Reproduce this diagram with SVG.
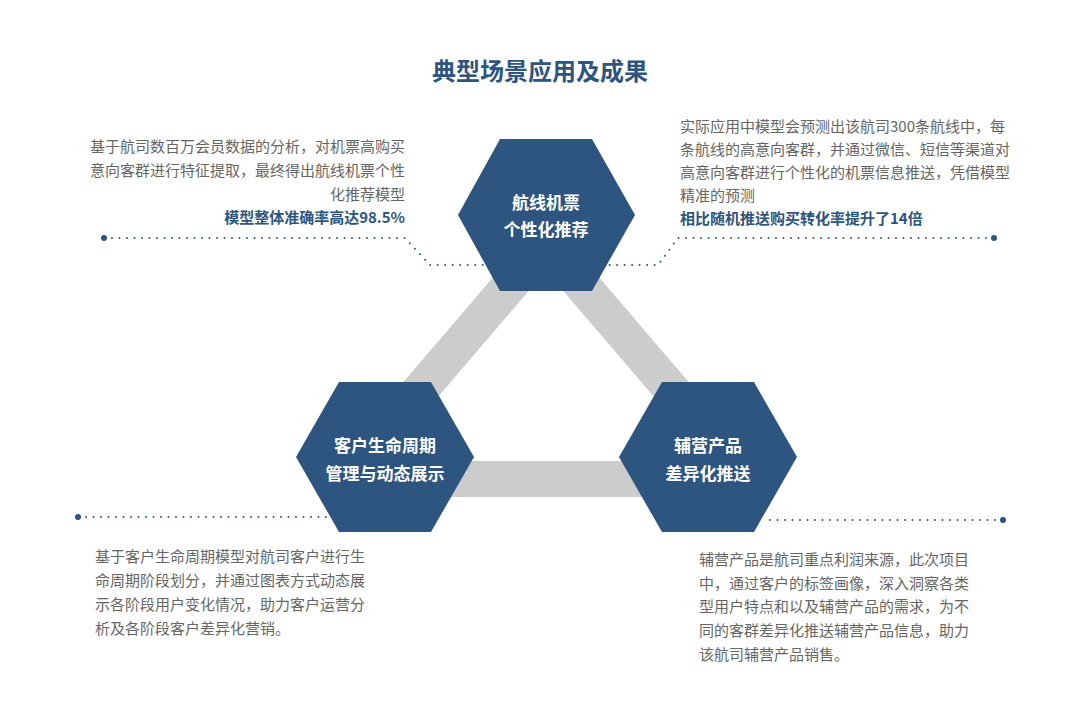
<svg xmlns="http://www.w3.org/2000/svg" width="1080" height="712" viewBox="0 0 1080 712">
<style>
.t{font-family:"Noto Sans CJK SC","Liberation Sans",sans-serif;font-size:15px;fill:#666}
.b{font-family:"Noto Sans CJK SC","Liberation Sans",sans-serif;font-size:15px;font-weight:bold;fill:#2d5580}
.h{font-family:"Noto Sans CJK SC","Liberation Sans",sans-serif;font-size:17px;font-weight:bold;fill:#fff;text-anchor:middle}
.hex{fill:#2d5580}
.dot{fill:none;stroke:#2d5580;stroke-width:2;stroke-linecap:round;stroke-dasharray:0 7.5}
</style>
<rect width="1080" height="712" fill="#fff"/>
<text x="540" y="80" text-anchor="middle" style="font-family:'Noto Sans CJK SC',sans-serif;font-size:24px;font-weight:bold;fill:#2d5580">典型场景应用及成果</text>
<polygon points="546,243 748,479 344,479" fill="none" stroke="#cccccc" stroke-width="36" stroke-linejoin="bevel"/>
<g id="connectors">
<polyline class="dot" points="112,238 405,238 430,265 490,265"/>
<circle cx="104" cy="238" r="3" fill="#2d5580"/>
<polyline class="dot" points="986,238 678,238 658,265 600,265"/>
<circle cx="994" cy="238" r="3" fill="#2d5580"/>
<polyline class="dot" points="86,517 330,517"/>
<circle cx="78" cy="517" r="3" fill="#2d5580"/>
<polyline class="dot" points="770,520 996,520"/>
<circle cx="1003" cy="520" r="3" fill="#2d5580"/>
</g>
<g id="n1">
<polygon class="hex" points="458,215 500,139 592,139 635,215 592,291 500,291"/>
<text class="h" x="546" y="209">航线机票</text>
<text class="h" x="546" y="236">个性化推荐</text>
</g>
<g id="n2">
<polygon class="hex" points="296,457 339,382 431,382 474,457 431,532 339,532"/>
<text class="h" x="385" y="452">客户生命周期</text>
<text class="h" x="385" y="480">管理与动态展示</text>
</g>
<g id="n3">
<polygon class="hex" points="619,457 662,382 754,382 797,457 754,532 662,532"/>
<text class="h" x="708" y="452">辅营产品</text>
<text class="h" x="708" y="480">差异化推送</text>
</g>
<g id="d1" text-anchor="end">
<text class="t" x="405" y="152">基于航司数百万会员数据的分析，对机票高购买</text>
<text class="t" x="405" y="176">意向客群进行特征提取，最终得出航线机票个性</text>
<text class="t" x="405" y="200">化推荐模型</text>
<text class="b" x="405" y="223">模型整体准确率高达98.5%</text>
</g>
<g id="d2">
<text class="t" x="680" y="132">实际应用中模型会预测出该航司300条航线中，每</text>
<text class="t" x="680" y="155">条航线的高意向客群，并通过微信、短信等渠道对</text>
<text class="t" x="680" y="178">高意向客群进行个性化的机票信息推送，凭借模型</text>
<text class="t" x="680" y="201">精准的预测</text>
<text class="b" x="680" y="224">相比随机推送购买转化率提升了14倍</text>
</g>
<g id="d3">
<text class="t" x="95" y="562">基于客户生命周期模型对航司客户进行生</text>
<text class="t" x="95" y="586">命周期阶段划分，并通过图表方式动态展</text>
<text class="t" x="95" y="610">示各阶段用户变化情况，助力客户运营分</text>
<text class="t" x="95" y="634">析及各阶段客户差异化营销。</text>
</g>
<g id="d4">
<text class="t" x="699" y="565">辅营产品是航司重点利润来源，此次项目</text>
<text class="t" x="699" y="589">中，通过客户的标签画像，深入洞察各类</text>
<text class="t" x="699" y="612">型用户特点和以及辅营产品的需求，为不</text>
<text class="t" x="699" y="636">同的客群差异化推送辅营产品信息，助力</text>
<text class="t" x="699" y="660">该航司辅营产品销售。</text>
</g>
</svg>
